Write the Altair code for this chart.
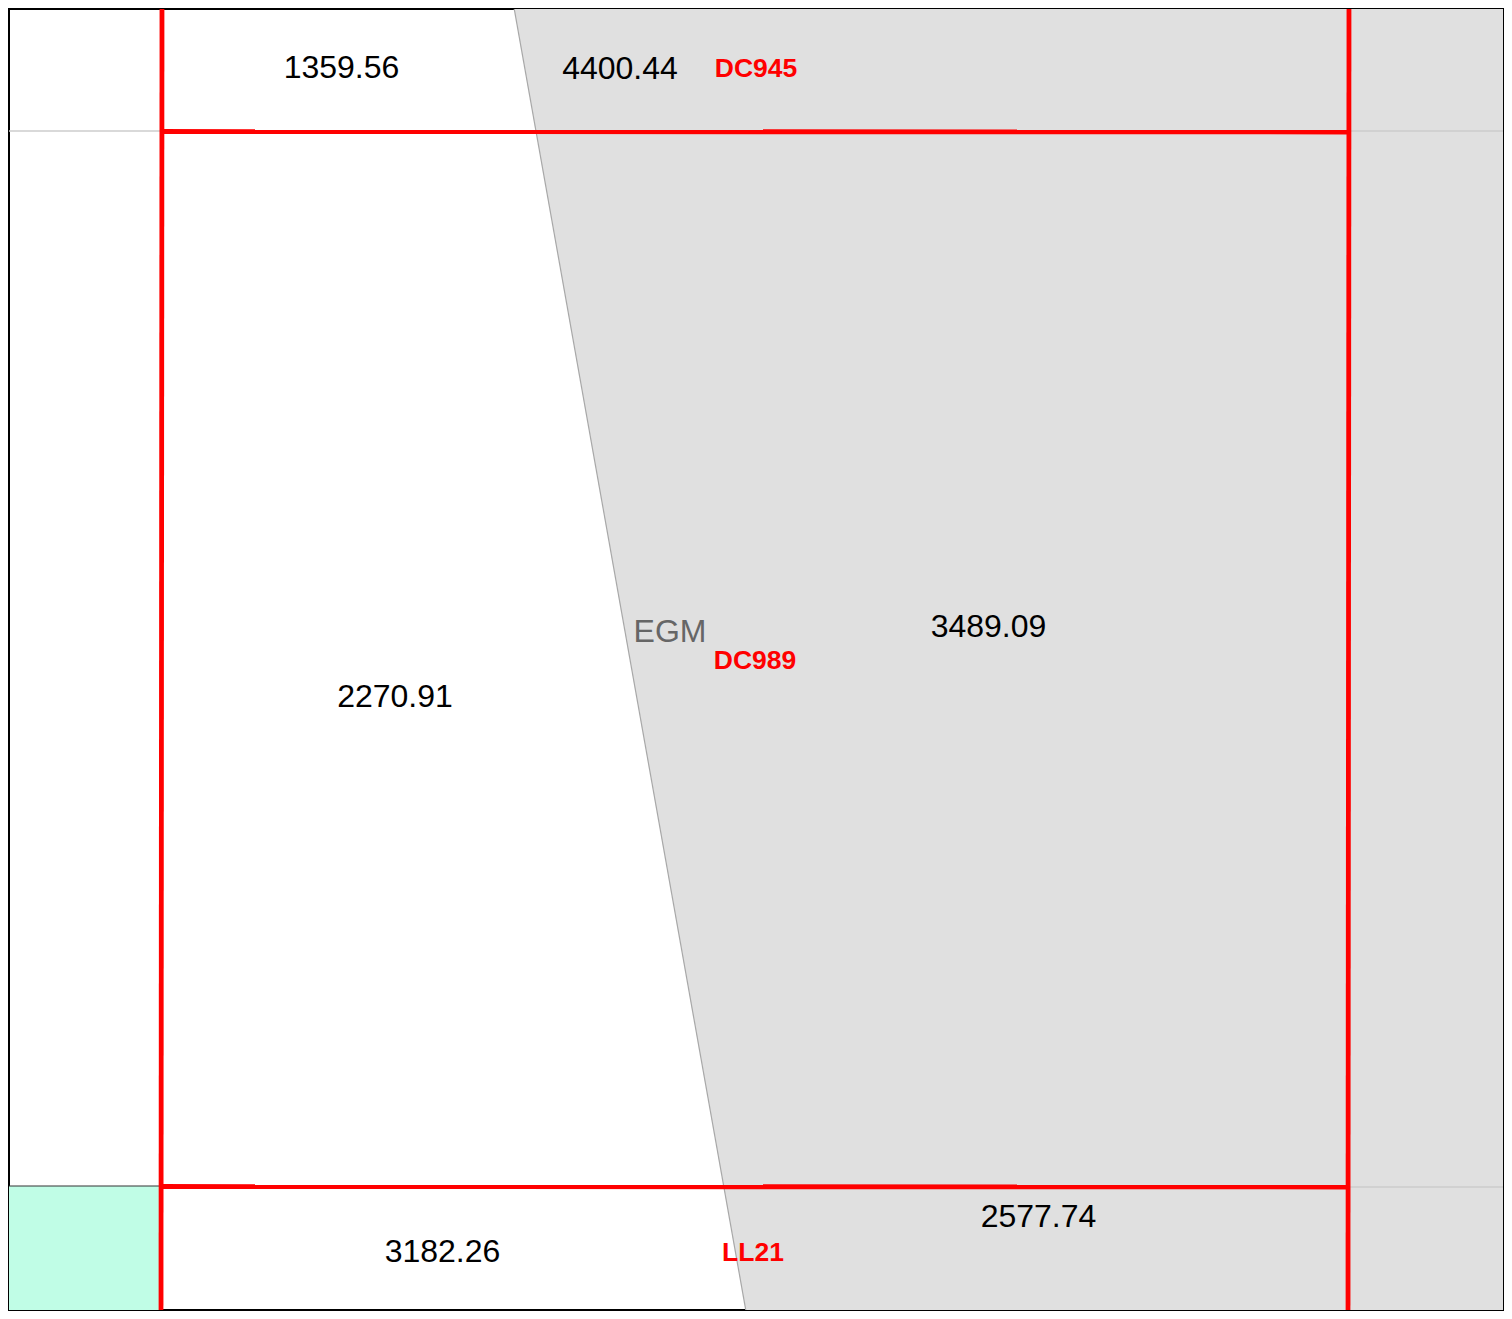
import altair as alt
import pandas as pd

# Visible map window (local map units)
X_DOMAIN = [9, 1503]
Y_DOMAIN = [9, 1310]

# Grey zone (EGM) polygon: left boundary runs diagonally, right edge is map edge
zone_y = [2, 1317]
zone_x_left = [513, 747]
zone_x_right = [1510, 1510]
zone_name = ["EGM"]
zone_label_x = [670]
zone_label_y = [641.5]

# Thin grey parcel boundaries across the whole map
bound_y = [131, 1187]
bound_x1 = [2, 2]
bound_x2 = [1510, 1510]

# Mint coloured parcel
mint_x1 = [2]
mint_x2 = [160]
mint_y1 = [1186]
mint_y2 = [1317]

# Red parcel outlines (segments)
red_x1 = [162, 1349, 161, 161]
red_y1 = [2, 2, 131.5, 1186.5]
red_x2 = [161, 1348, 1349, 1349]
red_y2 = [1317, 1317, 132, 1187]

# Area values
area_labels = ["1359.56", "4400.44", "2270.91", "3489.09", "3182.26", "2577.74"]
area_x = [341.5, 620, 395, 988.5, 442.5, 1038.5]
area_y = [78, 79, 706.5, 636.5, 1262, 1226.5]

# Parcel identifiers
parcel_ids = ["DC945", "DC989", "LL21"]
parcel_x = [756, 755, 753]
parcel_y = [77, 669, 1261]

xs = alt.Scale(domain=X_DOMAIN, nice=False, zero=False)
ys = alt.Scale(domain=Y_DOMAIN, reverse=True, nice=False, zero=False)
FONT = "Liberation Sans"

zone_df = pd.DataFrame({"y": zone_y, "x": zone_x_left, "x2": zone_x_right})
zone = alt.Chart(zone_df).mark_area(orient="horizontal", color="#e0e0e0", clip=True).encode(
    y=alt.Y("y:Q", scale=ys, axis=None),
    x=alt.X("x:Q", scale=xs, axis=None),
    x2="x2:Q",
)

diag_df = pd.DataFrame({"x": [zone_x_left[0]], "y": [zone_y[0]],
                        "x2": [zone_x_left[1]], "y2": [zone_y[1]]})
diag = alt.Chart(diag_df).mark_rule(color="#a8a8a8", strokeWidth=1.2, clip=True).encode(
    x=alt.X("x:Q", scale=xs, axis=None), y=alt.Y("y:Q", scale=ys, axis=None),
    x2="x2:Q", y2="y2:Q",
)

bound_df = pd.DataFrame({"x": bound_x1, "x2": bound_x2, "y": bound_y})
bounds = alt.Chart(bound_df).mark_rule(color="#cccccc", strokeWidth=1.5, clip=True).encode(
    x=alt.X("x:Q", scale=xs, axis=None), x2="x2:Q",
    y=alt.Y("y:Q", scale=ys, axis=None),
)

mint_df = pd.DataFrame({"x": mint_x1, "x2": mint_x2, "y": mint_y1, "y2": mint_y2})
mint = alt.Chart(mint_df).mark_rect(fill="#c0fde6", stroke="#333333", strokeWidth=1,
                                    clip=True).encode(
    x=alt.X("x:Q", scale=xs, axis=None), x2="x2:Q",
    y=alt.Y("y:Q", scale=ys, axis=None), y2="y2:Q",
)

red_df = pd.DataFrame({"x": red_x1, "y": red_y1, "x2": red_x2, "y2": red_y2})
red = alt.Chart(red_df).mark_rule(color="#ff0000", strokeWidth=4.8, clip=True).encode(
    x=alt.X("x:Q", scale=xs, axis=None), y=alt.Y("y:Q", scale=ys, axis=None),
    x2="x2:Q", y2="y2:Q",
)

area_df = pd.DataFrame({"label": area_labels, "x": area_x, "y": area_y})
area_text = alt.Chart(area_df).mark_text(
    font=FONT, fontSize=32, color="#000000", align="center", baseline="alphabetic"
).encode(
    x=alt.X("x:Q", scale=xs, axis=None), y=alt.Y("y:Q", scale=ys, axis=None),
    text="label:N",
)

zone_df2 = pd.DataFrame({"label": zone_name, "x": zone_label_x, "y": zone_label_y})
zone_text = alt.Chart(zone_df2).mark_text(
    font=FONT, fontSize=32, color="#666666", align="center", baseline="alphabetic"
).encode(
    x=alt.X("x:Q", scale=xs, axis=None), y=alt.Y("y:Q", scale=ys, axis=None),
    text="label:N",
)

id_df = pd.DataFrame({"label": parcel_ids, "x": parcel_x, "y": parcel_y})
id_text = alt.Chart(id_df).mark_text(
    font=FONT, fontSize=26.5, fontWeight="bold", color="#ff0000",
    align="center", baseline="alphabetic"
).encode(
    x=alt.X("x:Q", scale=xs, axis=None), y=alt.Y("y:Q", scale=ys, axis=None),
    text="label:N",
)

chart = alt.layer(
    zone, diag, bounds, mint, red, area_text, zone_text, id_text
).properties(
    width=1494, height=1301, padding=1, background="white"
).configure_view(
    stroke="#000000", strokeWidth=2
)

chart.save("out.html", embed_options={"renderer": "svg", "actions": False})
